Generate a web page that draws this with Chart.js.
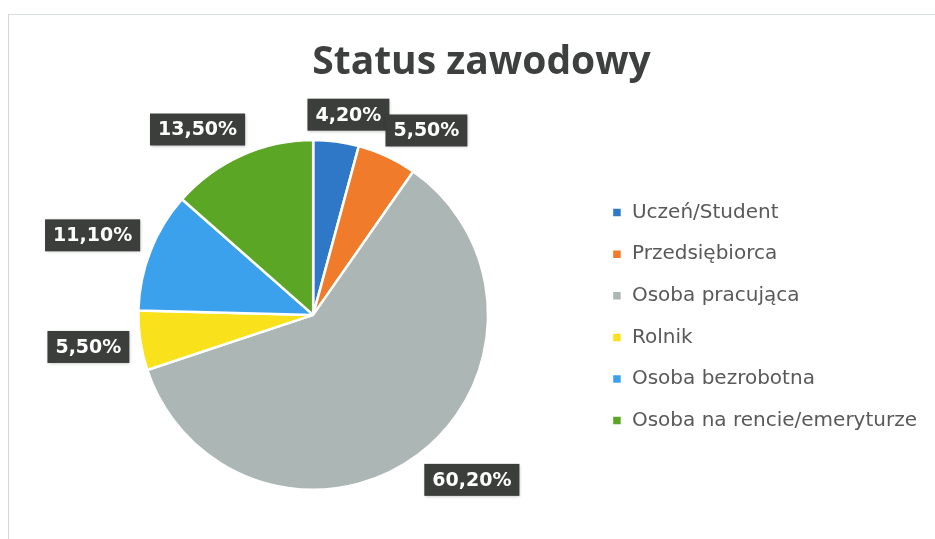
<!DOCTYPE html>
<html><head><meta charset="utf-8">
<script src="https://cdn.jsdelivr.net/npm/chart.js@4/dist/chart.umd.min.js"></script>
<style>
html,body{margin:0;padding:0;background:#fff;}
#wrap{position:relative;width:935px;height:539px;overflow:hidden;}
#frame{position:absolute;left:8px;top:14px;right:-4px;bottom:-4px;border-left:1px solid #d2dada;border-top:1px solid #d6dddd;pointer-events:none}
canvas{position:absolute;left:0;top:0}
</style></head><body>
<div id="wrap"><canvas id="c" width="935" height="539"></canvas><div id="frame"></div></div>
<script>
const categories = ['Uczeń/Student','Przedsiębiorca','Osoba pracująca','Rolnik','Osoba bezrobotna','Osoba na rencie/emeryturze'];
const shares = [4.2, 5.5, 60.2, 5.5, 11.1, 13.5];
const valueLabels = ['4,20%','5,50%','60,20%','5,50%','11,10%','13,50%'];
const sliceColors = ['#2f78c8','#f07b2b','#acb6b4','#f9e21c','#3ca1ec','#5ba624'];
const chartTitle = 'Status zawodowy';

const outsideLabels = {
  id: 'outsideLabels',
  afterDatasetsDraw(chart) {
    const ctx = chart.ctx;
    const meta = chart.getDatasetMeta(0);
    ctx.save();
    ctx.font = 'bold 19px "DejaVu Sans"';
    ctx.textAlign = 'center';
    ctx.textBaseline = 'middle';
    const s = v => Math.max(-1, Math.min(1, 2 * v));
    meta.data.forEach((arc, i) => {
      const p = arc.getProps(['x','y','startAngle','endAngle','outerRadius'], true);
      const mid = (p.startAngle + p.endAngle) / 2;
      const r = p.outerRadius + 11;
      const px = p.x + Math.cos(mid) * r;
      const py = p.y + Math.sin(mid) * r;
      const txt = valueLabels[i];
      const w = ctx.measureText(txt).width + 16;
      const h = 32;
      const cx = px + (w / 2) * s(Math.cos(mid));
      const cy = py + (h / 2) * s(Math.sin(mid));
      ctx.shadowColor = 'rgba(0,0,0,0.25)';
      ctx.shadowBlur = 3;
      ctx.shadowOffsetX = 1;
      ctx.shadowOffsetY = 1;
      ctx.fillStyle = '#3b3e3b';
      ctx.fillRect(cx - w / 2, cy - h / 2, w, h);
      ctx.shadowColor = 'transparent';
      ctx.fillStyle = '#ffffff';
      ctx.fillText(txt, cx, cy + 1);
    });
    ctx.restore();
  }
};

new Chart(document.getElementById('c'), {
  type: 'pie',
  data: {
    labels: categories,
    datasets: [{
      data: shares,
      backgroundColor: sliceColors,
      borderColor: '#ffffff',
      borderWidth: 2.5
    }]
  },
  options: {
    responsive: false,
    devicePixelRatio: 1,
    animation: false,
    layout: { padding: { left: 36, right: 8, top: 20, bottom: 48 } },
    plugins: {
      title: {
        display: true,
        text: chartTitle,
        color: '#3d403e',
        font: { family: '"Open Sans"', size: 39, weight: 'bold' },
        padding: { top: 19, bottom: 53 }
      },
      legend: {
        position: 'right',
        title: { display: true, text: '', font: { size: 1 }, padding: { top: 121, bottom: 0 } },
        labels: {
          boxWidth: 10,
          boxHeight: 10,
          padding: 21.6,
          color: '#595959',
          font: { family: '"DejaVu Sans"', size: 20 }
        }
      },
      tooltip: { enabled: false }
    }
  },
  plugins: [outsideLabels]
});
</script>
</body></html>
